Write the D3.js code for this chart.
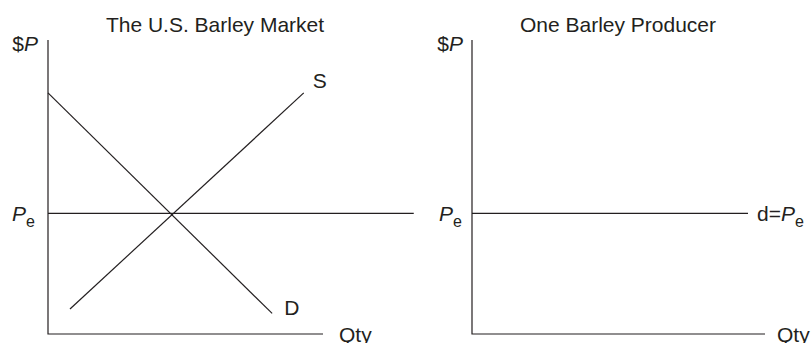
<!DOCTYPE html>
<html lang="en">
  <head>
    <meta charset="utf-8" />
    <title>Barley Market</title>
    <script src="https://d3js.org/d3.v7.min.js" charset="utf-8"></script>
    <style>
      body { margin: 0; background: #fff; }
      text { font-family: "Liberation Sans", Arial, sans-serif; fill: #231f20; }
    </style>
  </head>
  <body>
    <div id="chart"></div>
    <script type="text/javascript">
      // panel titles
      const titles = ["The U.S. Barley Market", "One Barley Producer"];
      // market curves, in (qty, price) units on a 0-100 grid
      const demandPts = [[0, 82], [81.5, 7]];
      const supplyPts = [[8, 8.5], [93, 82]];
      const priceEq = 41;
      const marketPeEnd = 133;
      // producer demand line
      const firmPts = [[0, priceEq], [94.2, priceEq]];

      const cW = 812, cH = 343, ink = "#231f20";

      const svg = d3.select("#chart").append("svg")
        .attr("width", cW).attr("height", cH);

      const y = d3.scaleLinear().domain([0, 100]).range([334, 40]);
      const xL = d3.scaleLinear().domain([0, 100]).range([48, 323]);
      const xR = d3.scaleLinear().domain([0, 100]).range([472, 765]);

      const lineFor = (xs) => d3.line().x((d) => xs(d[0])).y((d) => y(d[1]));

      function seg(xs, pts) {
        svg.append("path")
          .attr("d", lineFor(xs)(pts))
          .attr("fill", "none")
          .attr("stroke", ink)
          .attr("stroke-width", 1.2);
      }

      // axes
      [xL, xR].forEach((xs) => {
        seg(xs, [[0, 100], [0, 0], [100, 0]]);
      });

      // market
      seg(xL, demandPts);
      seg(xL, supplyPts);
      seg(xL, [[0, priceEq], [marketPeEnd, priceEq]]);
      // producer
      seg(xR, firmPts);

      // titles
      svg.append("text").attr("x", 215).attr("y", 32).attr("text-anchor", "middle")
        .attr("font-size", 21).text(titles[0]);
      svg.append("text").attr("x", 618).attr("y", 32).attr("text-anchor", "middle")
        .attr("font-size", 21).text(titles[1]);

      function priceLabel(xp, yp) {
        const t = svg.append("text").attr("x", xp).attr("y", yp)
          .attr("text-anchor", "end").attr("font-size", 21);
        t.append("tspan").text("$");
        t.append("tspan").attr("font-style", "italic").text("P");
      }
      function peLabel(xp, yp, anchor, prefix) {
        const t = svg.append("text").attr("x", xp).attr("y", yp)
          .attr("text-anchor", anchor).attr("font-size", 21);
        if (prefix) t.append("tspan").text(prefix);
        t.append("tspan").attr("font-style", "italic").text("P");
        t.append("tspan").attr("font-size", 16).attr("dy", 6).text("e");
      }

      priceLabel(xL(0) - 10, 51);
      priceLabel(xR(0) - 9, 51);
      peLabel(xL(0) - 13, y(priceEq) + 8, "end");
      peLabel(xR(0) - 10, y(priceEq) + 8, "end");
      peLabel(xR(firmPts[1][0]) + 9, y(priceEq) + 8, "start", "d=");

      svg.append("text").attr("x", xL(supplyPts[1][0]) + 9).attr("y", 88)
        .attr("font-size", 21).text("S");
      svg.append("text").attr("x", xL(demandPts[1][0]) + 12).attr("y", 315)
        .attr("font-size", 21).text("D");
      svg.append("text").attr("x", xL(100) + 16).attr("y", 342)
        .attr("font-size", 21).text("Qty");
      svg.append("text").attr("x", xR(100) + 12).attr("y", 342)
        .attr("font-size", 21).text("Qty");
    </script>
  </body>
</html>
